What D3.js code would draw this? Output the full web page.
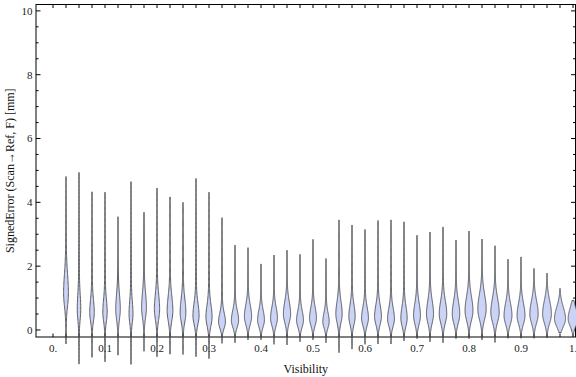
<!DOCTYPE html>
<html>
<head>
<meta charset="utf-8">
<script src="https://cdnjs.cloudflare.com/ajax/libs/d3/7.8.5/d3.min.js"></script>
<style>
  body { margin: 0; background: white; }
  text { font-family: "Liberation Serif", "Times New Roman", serif; }
</style>
</head>
<body>
<svg id="svg_violin" width="576" height="377"></svg>
<script>
const svg_violin = d3.select("#svg_violin")

// visibility bins (category centres)
const visibility = [0.025, 0.05, 0.075, 0.1, 0.125, 0.15, 0.175, 0.2, 0.225, 0.25,
    0.275, 0.3, 0.325, 0.35, 0.375, 0.4, 0.425, 0.45, 0.475, 0.5,
    0.525, 0.55, 0.575, 0.6, 0.625, 0.65, 0.675, 0.7, 0.725, 0.75,
    0.775, 0.8, 0.825, 0.85, 0.875, 0.9, 0.925, 0.95, 0.975, 1.0]

// largest signed error per bin [mm]
const maxErr = [4.81, 4.94, 4.33, 4.32, 3.55, 4.65, 3.69, 4.45, 4.17, 4.0,
    4.75, 4.32, 3.52, 2.66, 2.58, 2.07, 2.35, 2.5, 2.37, 2.84,
    2.24, 3.45, 3.29, 3.15, 3.43, 3.45, 3.39, 2.97, 3.07, 3.23,
    2.82, 3.1, 2.85, 2.64, 2.22, 2.29, 1.93, 1.78, 1.3, 0.92]

// smallest signed error per bin [mm]
const minErr = [-0.44, -1.07, -0.86, -1.0, -0.79, -1.08, -0.67, -0.84, -0.76, -0.77,
    -0.84, -0.9, -0.42, -0.4, -0.31, -0.31, -0.45, -0.47, -0.37, -0.31,
    -0.4, -0.71, -0.6, -0.45, -0.44, -0.44, -0.34, -0.27, -0.37, -0.4,
    -0.27, -0.27, -0.31, -0.39, -0.26, -0.26, -0.26, -0.24, -0.08, -0.16]

// error where the density peaks [mm]
const modeErr = [1.15, 0.65, 0.55, 0.55, 0.65, 0.5, 0.7, 0.65, 0.6, 0.55,
    0.45, 0.4, 0.25, 0.3, 0.42, 0.31, 0.37, 0.5, 0.3, 0.37,
    0.26, 0.5, 0.42, 0.37, 0.42, 0.35, 0.37, 0.45, 0.5, 0.5,
    0.5, 0.6, 0.65, 0.55, 0.45, 0.45, 0.5, 0.5, 0.35, 0.35]

// relative peak density
const peakDensity = [0.55, 0.4, 0.52, 0.5, 0.52, 0.45, 0.55, 0.6, 0.65, 0.65,
    0.7, 0.7, 0.78, 0.82, 0.82, 0.78, 0.78, 0.82, 0.78, 0.78,
    0.72, 0.72, 0.72, 0.78, 0.78, 0.78, 0.72, 0.78, 0.8, 0.85,
    0.85, 0.9, 0.95, 0.95, 0.9, 0.9, 0.95, 1.0, 1.25, 1.1]

// spread of the main body [mm]
const bodySpread = [0.45, 0.35, 0.3, 0.3, 0.35, 0.3, 0.35, 0.35, 0.35, 0.33,
    0.3, 0.3, 0.22, 0.24, 0.28, 0.24, 0.26, 0.3, 0.24, 0.26,
    0.22, 0.3, 0.28, 0.26, 0.28, 0.26, 0.28, 0.3, 0.32, 0.32,
    0.32, 0.34, 0.36, 0.34, 0.3, 0.3, 0.32, 0.32, 0.28, 0.26]

const yTicks = [0, 2, 4, 6, 8, 10]
const xTicks = [0, 0.1, 0.2, 0.3, 0.4, 0.5, 0.6, 0.7, 0.8, 0.9, 1.0]
const xTickLabels = ["0.", "0.1", "0.2", "0.3", "0.4", "0.5", "0.6", "0.7", "0.8", "0.9", "1."]

const frame = { left: 36, right: 575.5, top: 4.5, bottom: 337 }

var x = d3.scaleLinear()
    .domain([-0.0327, 1.0048])
    .range([frame.left, frame.right])

var y = d3.scaleLinear()
    .domain([-0.22, 10.2])
    .range([frame.bottom, frame.top])

// density -> half width in px
var w = d3.scaleLinear()
    .domain([0, 1])
    .range([0, 4.4])

drawFrame()
drawViolins()

function drawFrame() {
    svg_violin.append("rect")
        .attr("x", frame.left)
        .attr("y", frame.top)
        .attr("width", frame.right - frame.left)
        .attr("height", frame.bottom - frame.top)
        .attr("fill", "none")
        .attr("stroke", "black")
        .attr("stroke-width", 1)

    var ticks = svg_violin.append("g")
        .attr("stroke", "black")
        .attr("stroke-width", 1)

    // y ticks, left and right, minor every 0.5
    var yMinor = d3.range(0, 10.01, 0.5)
    yMinor.forEach(function (v) {
        var major = yTicks.indexOf(v) >= 0
        var len = major ? 4.5 : 2.5
        ticks.append("line")
            .attr("x1", frame.left).attr("x2", frame.left + len)
            .attr("y1", y(v)).attr("y2", y(v))
        ticks.append("line")
            .attr("x1", frame.right).attr("x2", frame.right - len)
            .attr("y1", y(v)).attr("y2", y(v))
    })

    // x ticks at every bin, top and bottom
    var xt = [0].concat(visibility)
    xt.forEach(function (v) {
        ticks.append("line")
            .attr("x1", x(v)).attr("x2", x(v))
            .attr("y1", frame.bottom).attr("y2", frame.bottom - 3.5)
        ticks.append("line")
            .attr("x1", x(v)).attr("x2", x(v))
            .attr("y1", frame.top).attr("y2", frame.top + 3.5)
    })

    svg_violin.append("g")
        .selectAll("text")
        .data(yTicks)
        .enter().append("text")
        .attr("x", frame.left - 3.5)
        .attr("y", d => y(d))
        .attr("dy", "0.35em")
        .attr("text-anchor", "end")
        .attr("font-size", "11px")
        .attr("fill", "#222")
        .text(d => d)

    svg_violin.append("g")
        .selectAll("text")
        .data(xTicks)
        .enter().append("text")
        .attr("x", d => x(d))
        .attr("y", 352)
        .attr("text-anchor", "middle")
        .attr("font-size", "11px")
        .attr("fill", "#222")
        .text((d, i) => xTickLabels[i])

    svg_violin.append("text")
        .attr("x", (frame.left + frame.right) / 2)
        .attr("y", 373)
        .attr("text-anchor", "middle")
        .attr("font-size", "12px")
        .attr("fill", "#111")
        .text("Visibility")

    svg_violin.append("text")
        .attr("transform", "translate(14," + ((frame.top + frame.bottom) / 2) + ") rotate(-90)")
        .attr("text-anchor", "middle")
        .attr("font-size", "12px")
        .attr("fill", "#111")
        .text("SignedError (Scan\u2192Ref, F) [mm]")
}

function profile(i) {
    var lo = minErr[i], hi = maxErr[i], m = modeErr[i], s = bodySpread[i]
    var pts = []
    var n = 140
    for (let k = 0; k <= n; k++) {
        var v = lo + (hi - lo) * k / n
        // body tapers slower upward than downward
        var sd = v > m ? s * 1.25 : s * 0.85
        var g = Math.exp(-0.5 * Math.pow((v - m) / sd, 2))
        // thin tails running out to the extremes
        var tail = v > m ? 0.12 * (hi - v) / (hi - m) : 0.12 * (v - lo) / (m - lo)
        var d = peakDensity[i] * g + tail * (1 - g)
        pts.push({ v: v, d: d })
    }
    return pts
}

function drawViolins() {
    var violins = svg_violin.append("g")
        .attr("class", "violins")

    visibility.forEach(function (vis, i) {
        var cx = x(vis)
        var area = d3.area()
            .y(d => y(d.v))
            .x0(d => cx - w(d.d))
            .x1(d => cx + w(d.d))
            .curve(d3.curveBasis)

        violins.append("path")
            .datum(profile(i))
            .attr("d", area)
            .attr("fill", "#cbd3f6")
            .attr("stroke", "#3a3a3a")
            .attr("stroke-width", 0.8)
            .attr("stroke-linejoin", "round")
    })
}
</script>
</body>
</html>
